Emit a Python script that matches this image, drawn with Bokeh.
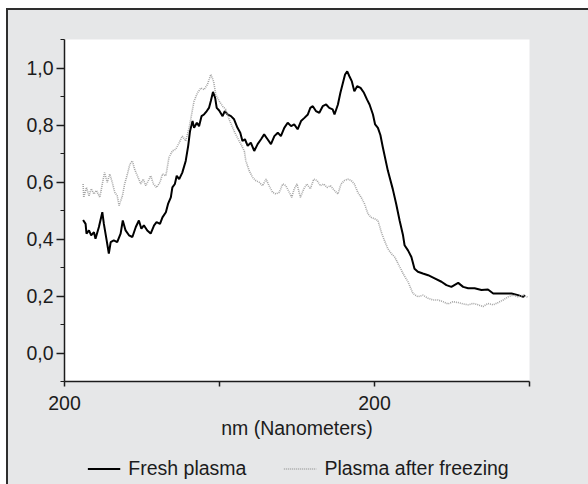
from bokeh.plotting import figure
from bokeh.layouts import column
from bokeh.models import (Legend, LegendItem, FixedTicker, CustomJSTickFormatter, Range1d)
from bokeh.embed import file_html
from bokeh.resources import INLINE

# ---------------- data ----------------
fresh_nm = [206.0, 206.8, 207.1, 207.9, 208.6, 209.5, 210.0, 211.1, 212.2, 212.7,
            213.6, 214.3, 214.9, 215.9, 217.0, 218.1, 218.8, 219.7, 220.8, 221.9,
            223.0, 224.0, 224.8, 225.6, 226.7, 227.8, 228.9, 229.7, 230.8, 231.6,
            232.7, 233.4, 234.3, 234.8, 235.6, 236.2, 237.0, 238.0, 239.1, 239.9,
            240.5, 241.3, 241.8, 242.7, 243.4, 244.2, 245.0, 245.9, 246.6, 247.2,
            247.9, 248.6, 249.1, 249.9, 251.0, 251.7, 252.6, 253.7, 254.7, 255.8,
            256.7, 257.4, 258.2, 259.1, 260.1, 261.2, 262.3, 263.4, 264.4, 265.5,
            266.6, 267.7, 268.8, 269.8, 270.9, 272.0, 273.1, 274.1, 275.2, 276.3,
            277.4, 278.5, 279.3, 280.1, 281.1, 282.2, 283.3, 284.4, 285.4, 286.5,
            287.1, 288.2, 289.0, 289.8, 290.5, 291.2, 291.9, 292.7, 293.5, 294.4,
            295.5, 296.6, 297.6, 298.4, 299.5, 300.2, 301.1, 301.9, 302.7, 304.3,
            305.9, 307.0, 308.1, 309.2, 309.7, 310.8, 311.9, 312.9, 314.0, 315.6,
            317.3, 319.4, 321.6, 323.2, 324.8, 327.0, 328.6, 330.2, 332.3, 334.5,
            336.6, 338.3, 339.9, 342.0, 344.2, 346.3, 348.0, 348.5]
fresh_abs = [0.467, 0.453, 0.419, 0.430, 0.413, 0.424, 0.401, 0.442, 0.494, 0.453,
             0.395, 0.349, 0.389, 0.395, 0.389, 0.419, 0.465, 0.430, 0.413, 0.407,
             0.442, 0.465, 0.436, 0.448, 0.430, 0.419, 0.448, 0.459, 0.453, 0.476,
             0.494, 0.523, 0.546, 0.581, 0.593, 0.622, 0.610, 0.633, 0.674, 0.727,
             0.779, 0.814, 0.790, 0.808, 0.796, 0.831, 0.837, 0.849, 0.860, 0.884,
             0.916, 0.895, 0.860, 0.851, 0.831, 0.849, 0.837, 0.831, 0.820, 0.790,
             0.773, 0.744, 0.750, 0.727, 0.738, 0.709, 0.733, 0.750, 0.767, 0.750,
             0.733, 0.761, 0.773, 0.761, 0.790, 0.808, 0.796, 0.802, 0.785, 0.814,
             0.825, 0.837, 0.860, 0.866, 0.849, 0.843, 0.866, 0.872, 0.860, 0.855,
             0.837, 0.872, 0.913, 0.947, 0.977, 0.988, 0.971, 0.953, 0.918, 0.936,
             0.930, 0.913, 0.889, 0.872, 0.837, 0.802, 0.790, 0.765, 0.721, 0.640,
             0.575, 0.523, 0.465, 0.413, 0.378, 0.360, 0.337, 0.296, 0.285, 0.279,
             0.273, 0.262, 0.250, 0.238, 0.232, 0.246, 0.232, 0.227, 0.227, 0.221,
             0.223, 0.209, 0.209, 0.209, 0.209, 0.203, 0.197, 0.203]

frozen_nm = [206.0, 206.2, 207.1, 207.9, 208.6, 209.5, 210.3, 211.4, 212.2, 212.9,
             213.8, 214.6, 215.4, 216.2, 217.0, 217.6, 218.7, 219.4, 220.3, 221.1,
             221.9, 222.6, 223.5, 224.6, 225.4, 226.2, 227.3, 227.8, 228.7, 229.7,
             230.8, 231.6, 232.7, 233.7, 234.8, 235.9, 237.0, 238.0, 239.1, 240.2,
             241.0, 241.8, 242.9, 244.0, 245.0, 246.1, 247.2, 248.1, 248.8, 249.9,
             251.0, 252.0, 253.1, 254.7, 255.8, 256.9, 258.0, 258.5, 259.6, 260.7,
             261.7, 262.8, 263.9, 265.0, 266.0, 267.1, 268.2, 269.3, 270.4, 271.4,
             272.5, 273.3, 274.1, 275.0, 276.1, 277.2, 278.2, 279.3, 280.4, 281.5,
             282.5, 283.6, 284.7, 285.8, 287.1, 288.2, 289.2, 290.3, 291.4, 292.5,
             293.5, 294.6, 295.7, 296.8, 297.9, 298.9, 300.0, 301.1, 301.9, 302.2,
             303.2, 304.3, 305.4, 306.5, 307.6, 309.2, 310.8, 312.4, 314.0, 315.6,
             317.3, 318.9, 320.5, 322.1, 323.7, 325.3, 327.0, 328.6, 330.2, 331.8,
             333.4, 335.0, 336.6, 338.3, 339.9, 341.5, 343.1, 344.7, 346.3, 348.0,
             349.6]
frozen_abs = [0.593, 0.546, 0.581, 0.552, 0.576, 0.558, 0.570, 0.546, 0.593, 0.633,
              0.599, 0.628, 0.599, 0.564, 0.552, 0.517, 0.552, 0.593, 0.628, 0.663,
              0.674, 0.645, 0.622, 0.593, 0.610, 0.587, 0.610, 0.622, 0.593, 0.581,
              0.599, 0.628, 0.622, 0.686, 0.709, 0.715, 0.738, 0.761, 0.744, 0.790,
              0.837, 0.884, 0.913, 0.930, 0.924, 0.942, 0.977, 0.953, 0.907, 0.884,
              0.866, 0.855, 0.820, 0.779, 0.755, 0.733, 0.709, 0.674, 0.639, 0.616,
              0.605, 0.599, 0.587, 0.610, 0.587, 0.564, 0.558, 0.564, 0.593, 0.587,
              0.564, 0.546, 0.576, 0.593, 0.546, 0.576, 0.593, 0.576, 0.610, 0.605,
              0.587, 0.593, 0.581, 0.587, 0.570, 0.558, 0.593, 0.605, 0.610, 0.605,
              0.593, 0.564, 0.546, 0.523, 0.488, 0.476, 0.471, 0.465, 0.436, 0.424,
              0.395, 0.366, 0.349, 0.337, 0.314, 0.279, 0.250, 0.209, 0.197, 0.203,
              0.192, 0.186, 0.186, 0.180, 0.172, 0.180, 0.177, 0.172, 0.169, 0.174,
              0.169, 0.163, 0.174, 0.169, 0.177, 0.186, 0.197, 0.203, 0.197, 0.203,
              0.195]

x_ticks = [200, 250, 300, 350]
x_tick_labels = ["200", "", "200", ""]
y_ticks = [0.0, 0.2, 0.4, 0.6, 0.8, 1.0]
y_minor_ticks = [-0.1, 0.1, 0.3, 0.5, 0.7, 0.9, 1.1]
series_names = ["Fresh plasma", "Plasma after freezing"]
x_title = "nm (Nanometers)"

FONT = "Liberation Sans"
FS = "19.5px"
BG = "#e6e7e8"
INK = "#1c1c1c"
FRESH_STYLE = dict(line_color="black", line_width=2.0)
FROZEN_STYLE = dict(line_color="#a4a4a4", line_width=1.6, line_dash="1 1")

# ---------------- main chart ----------------
p = figure(output_backend="svg", toolbar_location=None,
           frame_width=465, frame_height=342,
           min_border_left=56, min_border_right=59,
           min_border_top=29, min_border_bottom=60,
           x_range=(200, 350), y_range=(-0.1, 1.1),
           background_fill_color="white", border_fill_color=BG,
           outline_line_color=None)
p.grid.visible = False

p.line(fresh_nm, fresh_abs, **FRESH_STYLE)
p.line(frozen_nm, frozen_abs, **FROZEN_STYLE)

p.xaxis.ticker = FixedTicker(ticks=x_ticks)
p.xaxis.major_label_overrides = {t: l for t, l in zip(x_ticks, x_tick_labels)}
p.xaxis.axis_label = x_title
p.yaxis.ticker = FixedTicker(ticks=y_ticks, minor_ticks=y_minor_ticks)
p.yaxis.formatter = CustomJSTickFormatter(
    code="return tick.toFixed(1).replace('.', ',');")

for ax in (p.xaxis[0], p.yaxis[0]):
    ax.axis_line_color = INK
    ax.axis_line_width = 1.5
    ax.major_tick_line_color = INK
    ax.minor_tick_line_color = INK
    ax.major_tick_line_width = 1.5
    ax.minor_tick_line_width = 1.2
    ax.major_tick_in = 0
    ax.minor_tick_in = 0
    ax.major_label_text_font = FONT
    ax.major_label_text_font_size = FS
    ax.major_label_text_color = INK
    ax.axis_label_text_font = FONT
    ax.axis_label_text_font_size = FS
    ax.axis_label_text_font_style = "normal"
    ax.axis_label_text_color = INK

p.xaxis.major_tick_out = 5
p.xaxis.minor_tick_out = 0
p.xaxis.major_label_standoff = 9
p.xaxis.axis_label_standoff = 4
p.yaxis.major_tick_out = 8
p.yaxis.minor_tick_out = 4
p.yaxis.major_label_standoff = 3

# ---------------- legend strip ----------------
# the series are drawn again here only so that the legend has its keys;
# the strip's ranges lie outside the data, so no line shows in it
lg = figure(output_backend="svg", toolbar_location=None,
            frame_width=567, frame_height=32,
            min_border_left=0, min_border_right=13,
            min_border_top=11, min_border_bottom=0,
            x_range=Range1d(0, 1), y_range=Range1d(0, 1),
            x_axis_location=None, y_axis_location=None,
            background_fill_color=BG, border_fill_color=BG,
            outline_line_color=None)
lg.grid.visible = False
k1 = lg.line(fresh_nm, fresh_abs, **FRESH_STYLE)
k2 = lg.line(frozen_nm, frozen_abs, **FROZEN_STYLE)

legend = Legend(items=[LegendItem(label=series_names[0], renderers=[k1]),
                       LegendItem(label=series_names[1], renderers=[k2])],
                orientation="horizontal", location="center",
                background_fill_alpha=0, border_line_color=None,
                glyph_width=33, glyph_height=20, label_standoff=8, spacing=37,
                label_text_font=FONT, label_text_font_size=FS,
                label_text_color=INK, padding=0, margin=0)
lg.add_layout(legend, "center")

layout = column(p, lg, spacing=0,
                styles={"margin-left": "6px", "margin-top": "8px",
                        "border-left": "2px solid #2e2e2e",
                        "border-top": "2px solid #2e2e2e",
                        "background-color": BG})

open("out.html", "w").write(file_html(layout, INLINE))
